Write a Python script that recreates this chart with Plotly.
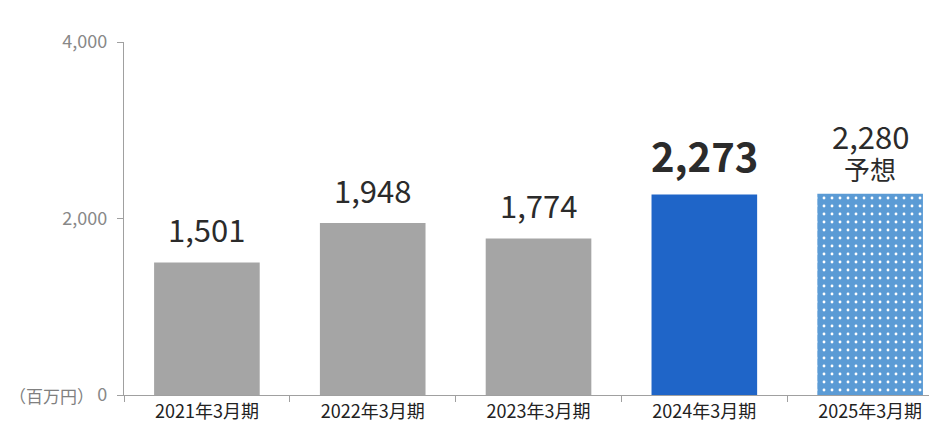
import plotly.graph_objects as go

categories = ["2021年3月期", "2022年3月期", "2023年3月期", "2024年3月期", "2025年3月期"]
values = [1501, 1948, 1774, 2273, 2280]
value_labels = ["1,501", "1,948", "1,774", "2,273", "2,280"]
forecast_note = "予想"
y_ticks = [0, 2000, 4000]
y_tick_text = ["0", "2,000", "4,000"]
unit_label = "（百万円）"

FONT = "Noto Sans CJK JP"
actual_colors = ["#a5a5a5", "#a5a5a5", "#a5a5a5", "#1f65c8"]

fig = go.Figure()
fig.add_trace(go.Bar(
    x=categories[:4], y=values[:4], width=0.637,
    marker=dict(color=actual_colors, line=dict(width=0)),
    hoverinfo="skip",
))
fig.add_trace(go.Bar(
    x=categories[4:], y=values[4:], width=0.637,
    marker=dict(color="#5b9bd5", line=dict(width=0),
                pattern=dict(shape=".", fgcolor="#ffffff", bgcolor="#5b9bd5",
                             fgopacity=1, size=8, solidity=0.1, fillmode="replace")),
    hoverinfo="skip",
))

for i, (c, v, t) in enumerate(zip(categories, values, value_labels)):
    big = (i == 3)
    if i == 4:
        shift = 58
    elif big:
        shift = 39
    else:
        shift = 34
    fig.add_annotation(
        x=c, y=v, text=f"<b>{t}</b>" if big else t, showarrow=False,
        yanchor="middle", yshift=shift,
        font=dict(family=FONT, size=40 if big else 31, color="#2b2b2b"),
    )

fig.add_annotation(
    x=categories[4], y=values[4], text=forecast_note, showarrow=False,
    yanchor="middle", yshift=25,
    font=dict(family=FONT, size=26, color="#2b2b2b"),
)

fig.add_annotation(
    x=0, y=0, xref="paper", yref="y", xanchor="right", xshift=-28,
    text=unit_label, showarrow=False,
    font=dict(family=FONT, size=17, color="#808080"),
)

fig.update_layout(
    width=929, height=422,
    margin=dict(l=124, r=0, t=42, b=27, autoexpand=False),
    paper_bgcolor="white", plot_bgcolor="white",
    showlegend=False, barmode="overlay",
    font=dict(family=FONT),
    xaxis=dict(
        range=[-0.5, 4.355], showgrid=False, zeroline=False,
        showline=True, linecolor="#a0a0a0", linewidth=1.3,
        ticks="outside", tickson="boundaries", ticklen=6, tickcolor="#a0a0a0",
        tickfont=dict(family=FONT, size=18, color="#222222"),
        automargin=False,
    ),
    yaxis=dict(
        range=[0, 4000], tickvals=y_ticks, ticktext=y_tick_text,
        showgrid=False, zeroline=False,
        showline=True, linecolor="#a0a0a0", linewidth=1.3,
        ticks="outside", ticklen=6, tickcolor="#a0a0a0",
        ticklabelstandoff=6,
        tickfont=dict(family=FONT, size=18, color="#888888"),
        automargin=False,
    ),
)

fig.write_html("out.html", config={"displayModeBar": False},
               post_script="document.body.style.margin='0';")
